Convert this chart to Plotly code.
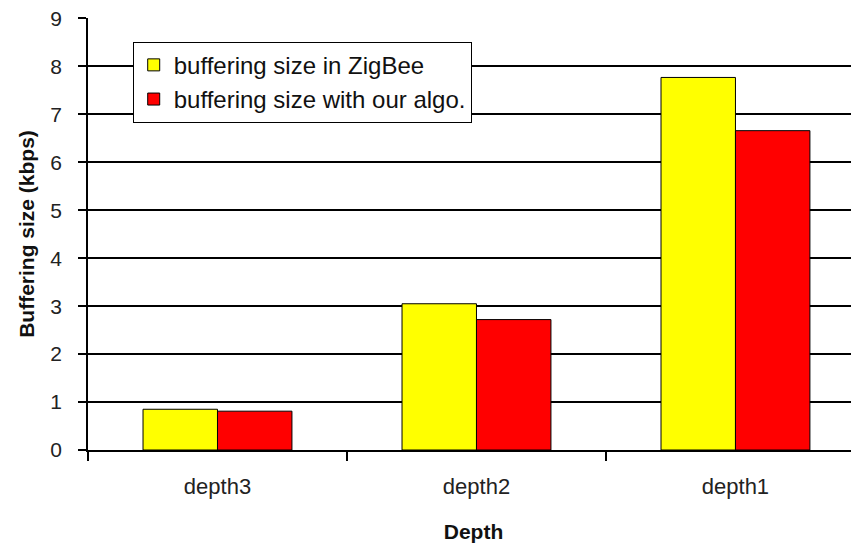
import plotly.graph_objects as go

categories = ["depth3", "depth2", "depth1"]
zigbee = [0.85, 3.05, 7.77]
our_algo = [0.81, 2.72, 6.66]
series_names = ["buffering size in ZigBee", "buffering size with our algo."]
y_ticks = list(range(0, 10))

FONT = "Arial, Liberation Sans, sans-serif"

fig = go.Figure()
fig.add_trace(go.Bar(x=categories, y=zigbee, name=series_names[0], legendgroup="a",
                     marker=dict(color="#FFFF00", line=dict(color="#000000", width=1))))
fig.add_trace(go.Bar(x=categories, y=our_algo, name=series_names[1], legendgroup="b",
                     marker=dict(color="#FF0000", line=dict(color="#000000", width=1))))

fig.update_layout(
    width=851, height=544,
    margin=dict(l=80, r=0, t=10, b=102, autoexpand=False),
    paper_bgcolor="white", plot_bgcolor="white",
    barmode="group", bargap=0.425, bargroupgap=0,
    font=dict(family=FONT, color="#222222"),
    showlegend=True,
    legend=dict(x=0.058, y=0.945, xanchor="left", yanchor="top",
                bgcolor="white", bordercolor="black", borderwidth=1,
                font=dict(size=24, family=FONT, color="#111111"),
                tracegroupgap=14, traceorder="normal"),
    xaxis=dict(type="category", range=[-0.5, 2.477], tickson="boundaries",
               automargin=False,
               ticks="outside", ticklen=9, tickcolor="black", tickwidth=1.5,
               showline=True, linecolor="black", linewidth=1.5,
               showgrid=False, tickfont=dict(size=22, family=FONT, color="#222222"),
               ticklabelstandoff=16,
               title=dict(text="<b>Depth</b>", font=dict(size=21, family=FONT, color="#111111"),
                          standoff=26)),
    yaxis=dict(range=[0, 9.01], tickvals=y_ticks, ticks="outside", ticklen=8,
               automargin=False, ticklabeloverflow="allow",
               tickcolor="black", tickwidth=1.5,
               showline=True, linecolor="black", linewidth=1.5,
               showgrid=True, gridcolor="black", gridwidth=1.5, zeroline=False,
               tickfont=dict(size=21, family=FONT, color="#222222"),
               ticklabelstandoff=12,
               title=dict(text="<b>Buffering size (kbps)</b>",
                          font=dict(size=21, family=FONT, color="#111111"), standoff=10)),
)

fig.write_html("out.html")
